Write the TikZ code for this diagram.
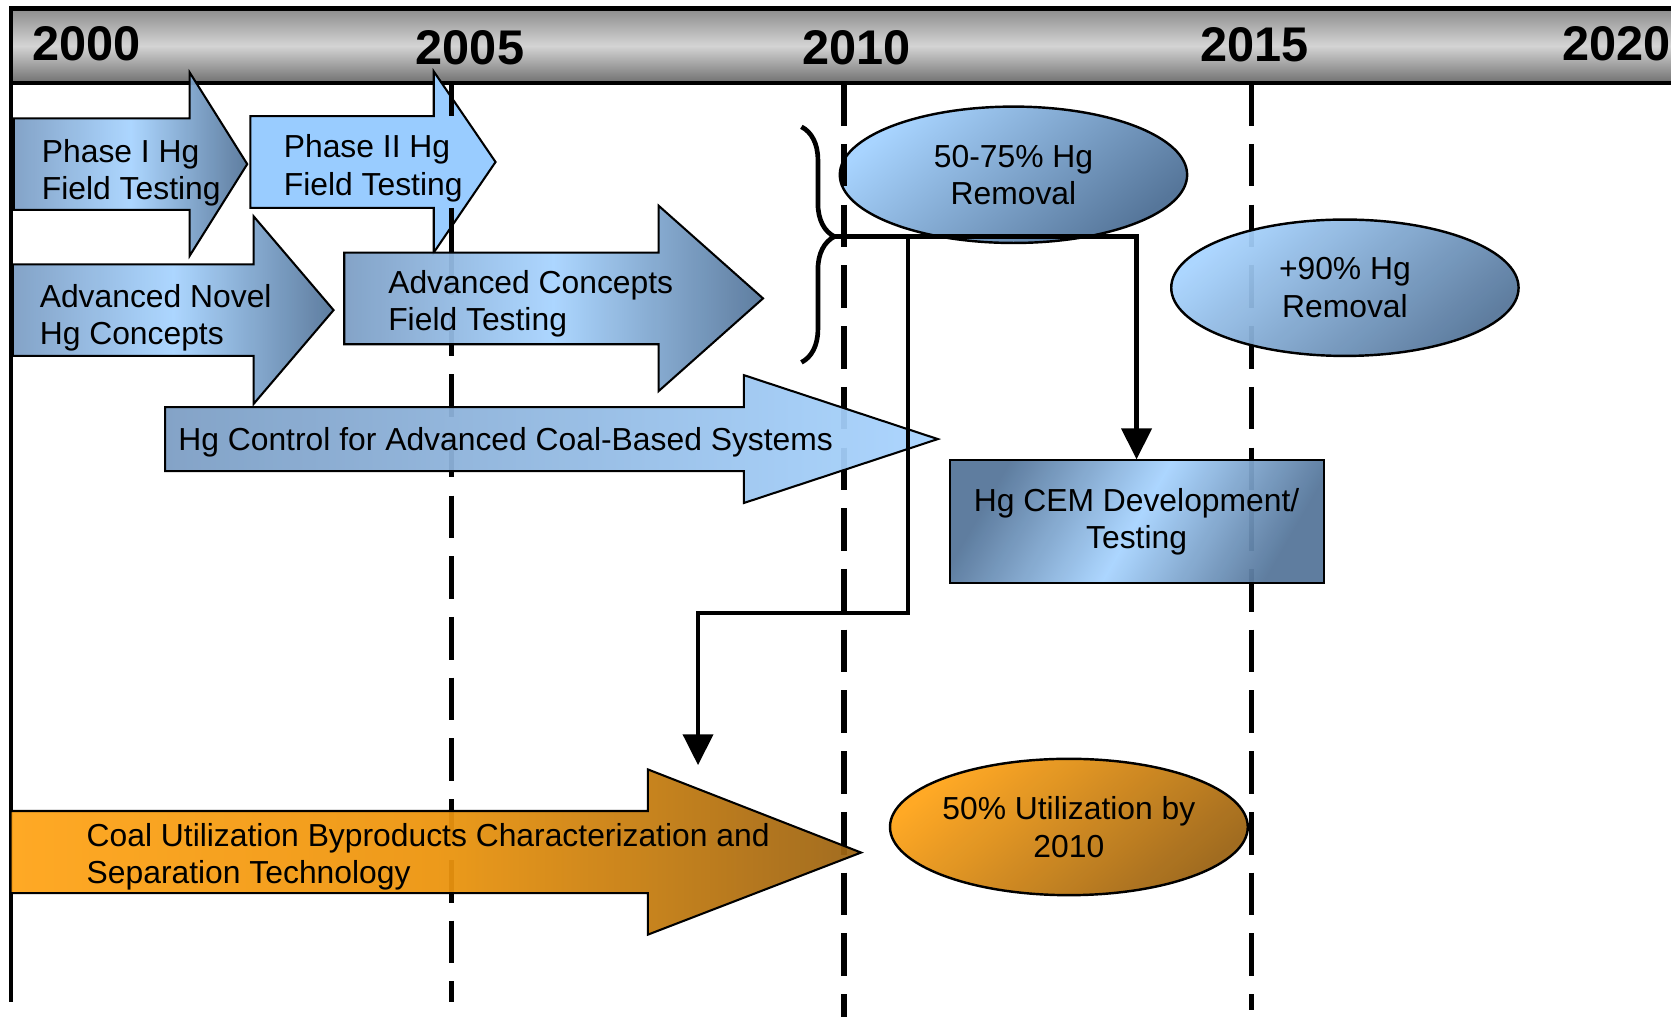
\documentclass[tikz,border=0pt]{standalone}
\usepackage{fontspec}
\setmainfont{Liberation Sans}
\usepackage{tikz}
\usetikzlibrary{shapes,arrows.meta,positioning,calc,decorations.pathreplacing}

\definecolor{hglight}{HTML}{A8D4FF}
\definecolor{hgflat}{HTML}{99CCFF}
\definecolor{hgmid}{HTML}{7D9EC4}
\definecolor{hgdark}{HTML}{56769A}
\definecolor{cublight}{HTML}{FFA419}
\definecolor{cubmid}{HTML}{EC950F}
\definecolor{cubdark}{HTML}{9C6414}
\definecolor{barlight}{HTML}{D4D4D4}
\definecolor{bardark}{HTML}{8C8C8C}

\begin{document}
\begin{tikzpicture}[x=0.02cm, y=-0.02cm,
        every node/.style={font=\fontsize{17}{20}\selectfont, inner sep=0pt},
        year/.style={font=\fontsize{26}{30}\selectfont\bfseries},
        yearline/.style={line width=2.8pt, dash pattern=on 0.8cm off 0.34cm},
        blockarrow/.style={draw, line width=1.1pt, fill opacity=0.95, left color=hgmid, right color=hgdark, middle color=hglight},
        cubarrow/.style={draw, line width=1.1pt, fill opacity=0.95, left color=cublight, right color=cubdark, middle color=cubmid},
        txt/.style={anchor=west, align=left},
        goal/.style={ellipse, draw, line width=1.3pt, minimum width=6.52cm, minimum height=2.56cm, align=center},
        link/.style={line width=2.4pt, -{Triangle[length=0.58cm, width=0.56cm]}}
    ]
        \useasboundingbox (0,0) rectangle (1568,954);

        % Timeline bar
        \shade[top color=bardark, bottom color=bardark!80!black, middle color=barlight] (10,8) rectangle (1590,78);
        \draw[line width=2.3pt] (1590,8) -- (10,8) -- (10,78) -- (1590,78);
        \node[year] (y2000) at (81,41) {2000};
        \node[year] (y2005) at (441,45) {2005};
        \node[year] (y2010) at (804,45) {2010};
        \node[year] (y2015) at (1177,42) {2015};
        \node[year] (y2020) at (1517,41) {2020};

        % Shapes under the year lines
        \filldraw[fill=hgflat, line width=1.1pt] (235,109) -- (407,109) -- (407,67) -- (465,152) -- (407,237) -- (407,195) -- (235,195) -- cycle;
        \node[goal, top color=hglight, bottom color=hgdark, shading angle=40] (hg75) at (951,164) {50-75\% Hg\\Removal};

        % Year lines
        \draw[line width=2.3pt] (10,78) -- (10,940);
        \draw[line width=2.8pt] (424,78) -- (424,109) (424,195) -- (424,237);
        \draw[yearline] (424,237) -- (424,940);
        \draw[yearline] (792,78) -- (792,954);
        \draw[yearline] (1174,78) -- (1174,948);

        % Program arrows
        \path[blockarrow] (13,111) -- (178,111) -- (178,68) -- (232,154) -- (178,240) -- (178,197) -- (13,197) -- cycle;
        \path[blockarrow] (12,248) -- (238,248) -- (238,203) -- (313,291) -- (238,379) -- (238,334) -- (12,334) -- cycle;
        \path[blockarrow] (323,237) -- (618,237) -- (618,193) -- (716,280) -- (618,367) -- (618,323) -- (323,323) -- cycle;
        \path[blockarrow, middle color=hglight!85!hgmid, right color=hglight] (155,382) -- (698,382) -- (698,352) -- (880,412) -- (698,472) -- (698,442) -- (155,442) -- cycle;
        \path[cubarrow] (10,761) -- (608,761) -- (608,722) -- (808,800) -- (608,877) -- (608,838) -- (10,838) -- cycle;

        \node[txt] (phase1) at (39,162) {Phase I Hg\\Field Testing};
        \node[txt] (phase2) at (266,158) {Phase II Hg\\Field Testing};
        \node[txt] (novel) at (37,298) {Advanced Novel\\Hg Concepts};
        \node[txt] (concepts) at (364,285) {Advanced Concepts\\Field Testing};
        \node[txt] (coalsys) at (167,415) {Hg Control for Advanced Coal-Based Systems};
        \node[txt] (cub) at (81,804) {Coal Utilization Byproducts Characterization and\\Separation Technology};

        % Goals
        \node[goal, fill opacity=0.95, text opacity=1, top color=hglight, bottom color=hgdark, shading angle=40] (hg90) at (1262,270) {+90\% Hg\\Removal};
        \node[goal, fill opacity=0.95, text opacity=1, top color=cublight, bottom color=cubdark, shading angle=40] (cubgoal) at (1003,776) {50\% Utilization by\\2010};
        \node[draw, line width=1.1pt, minimum width=7.02cm, minimum height=2.3cm, align=center, fill opacity=0.95, text opacity=1,
              left color=hgdark, right color=hgdark, middle color=hglight, shading angle=60] (cem) at (1066.5,489.5) {Hg CEM Development/\\Testing};

        % Brace and links
        \draw[line width=2.5pt, decorate, decoration={brace, amplitude=0.62cm, aspect=0.466}] (752,119) -- (752,340);
        \coordinate (bracetip) at (783,222);
        \coordinate (split) at (852,222);
        \coordinate (cubin) at (655,718);
        \draw[link] (bracetip) -| (cem.north);
        \draw[link] (split) -- ++(0,353) -| (cubin);
    \end{tikzpicture}
\end{document}
